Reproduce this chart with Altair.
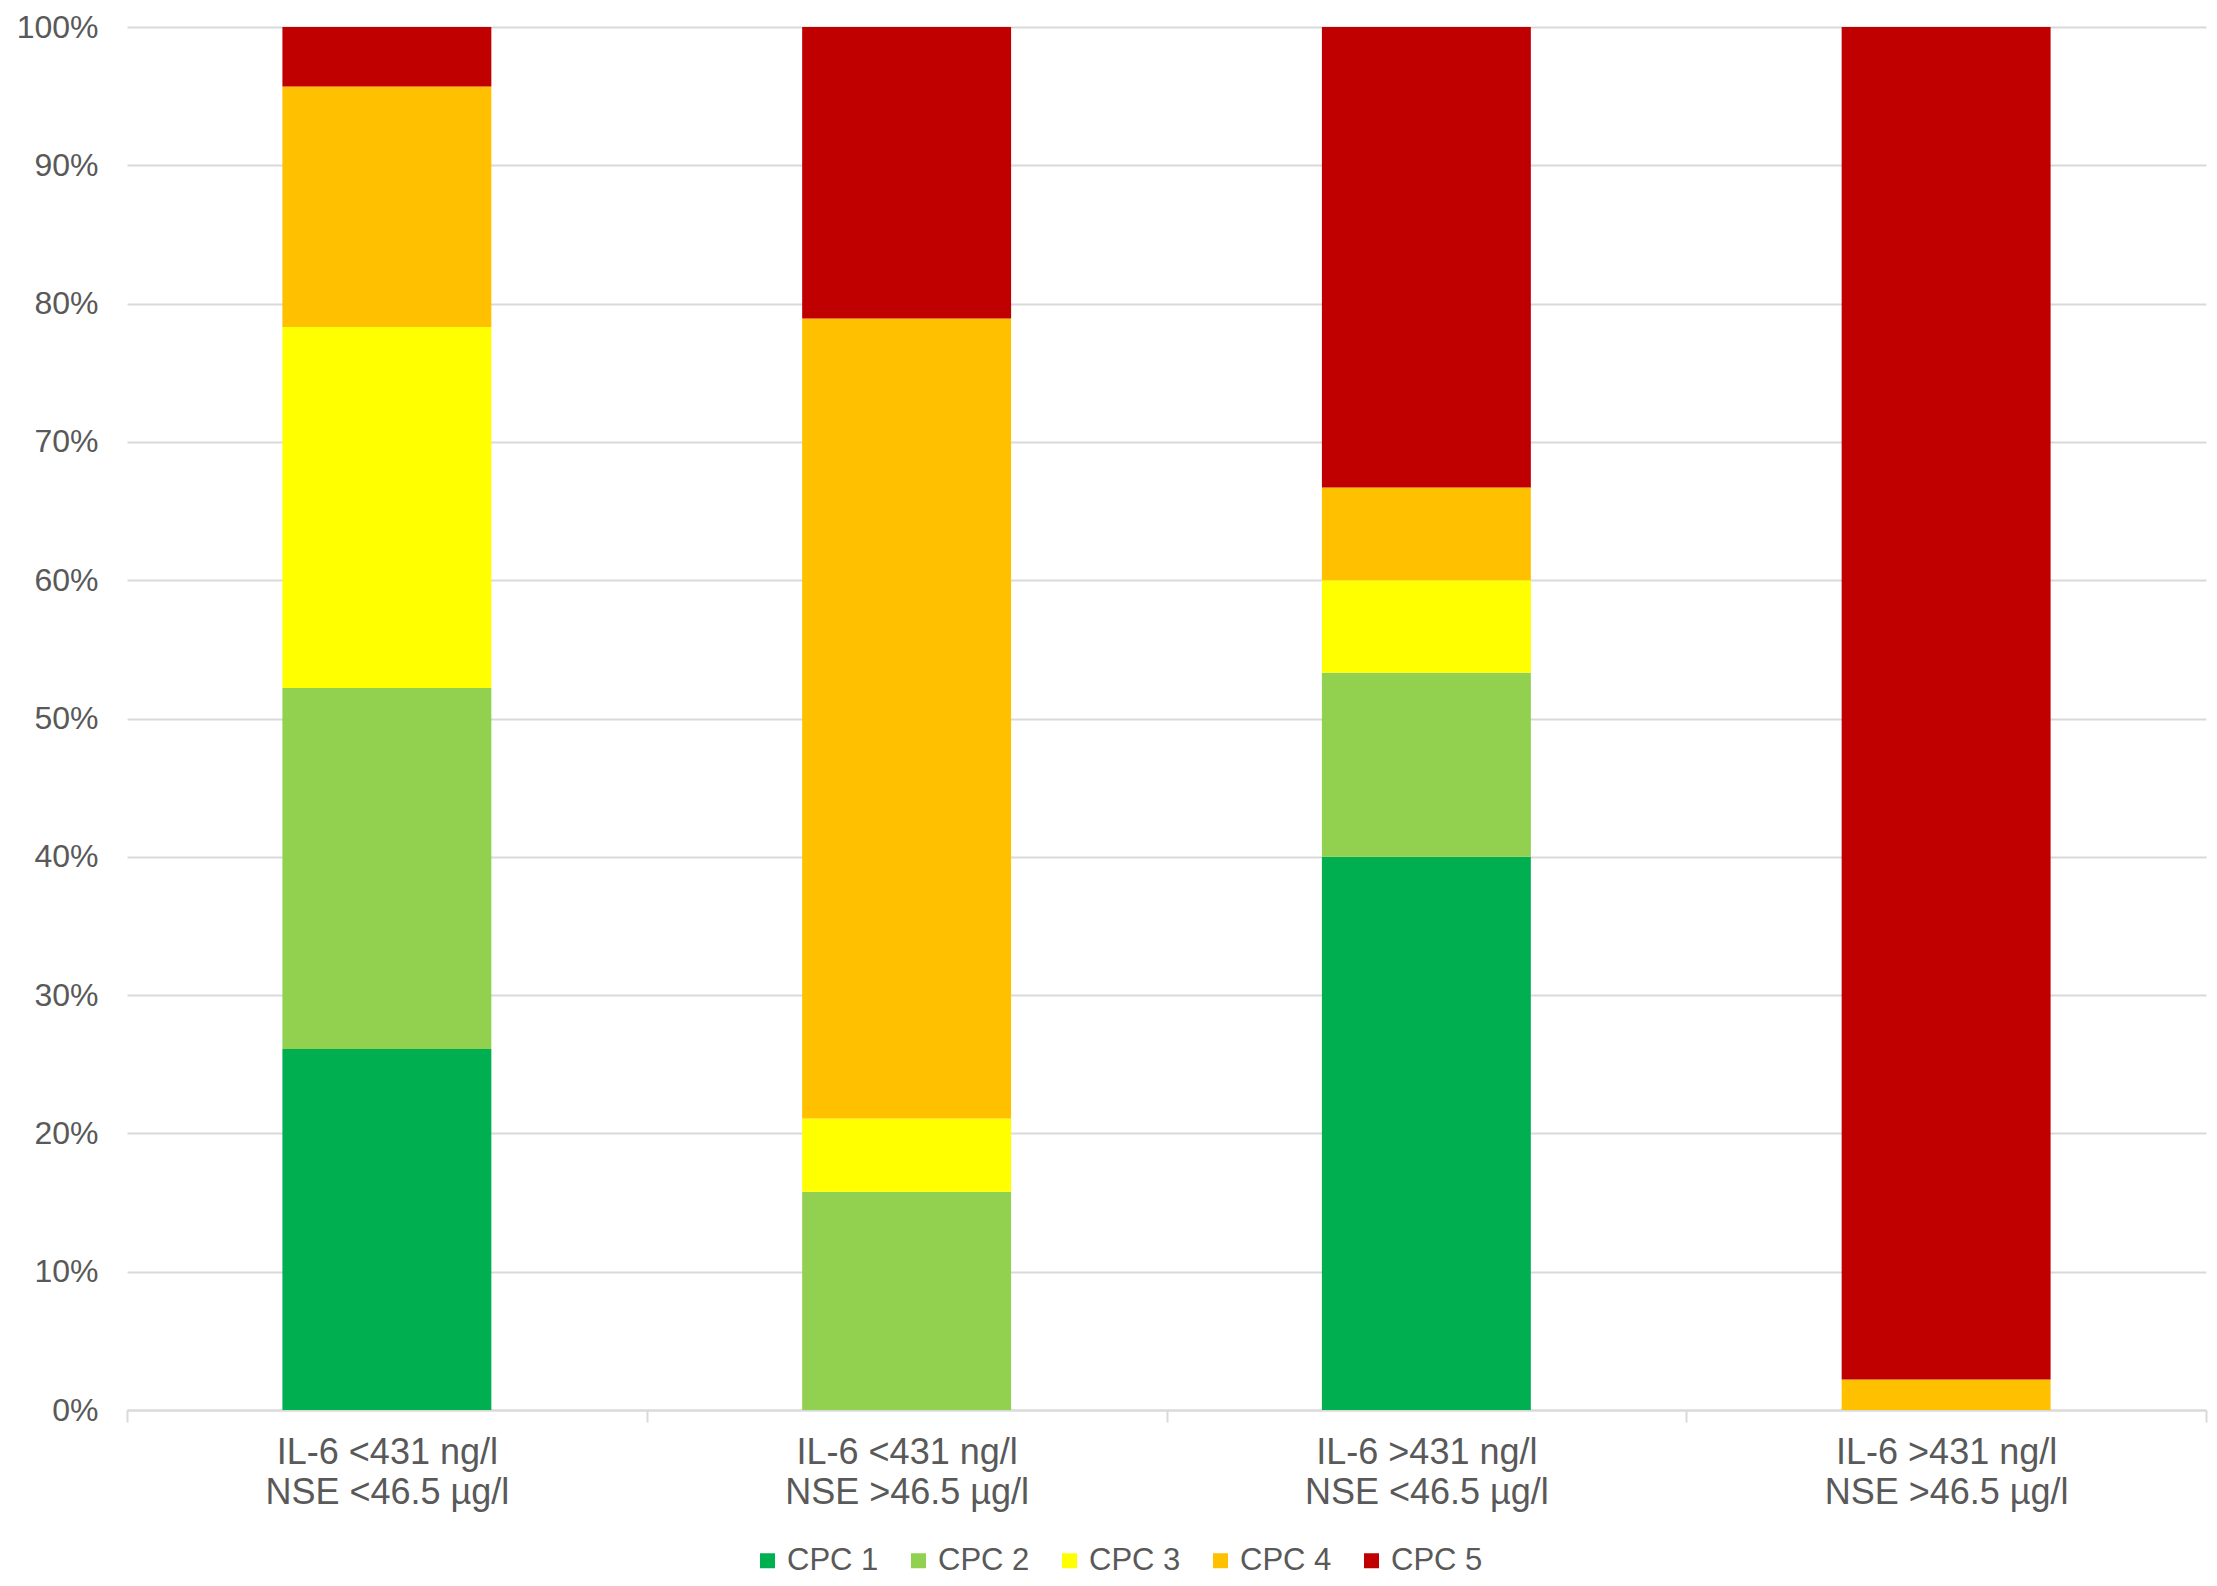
import altair as alt
import pandas as pd

groups = [
    "IL-6 <431 ng/l\nNSE <46.5 µg/l",
    "IL-6 <431 ng/l\nNSE >46.5 µg/l",
    "IL-6 >431 ng/l\nNSE <46.5 µg/l",
    "IL-6 >431 ng/l\nNSE >46.5 µg/l",
]
series = ["CPC 1", "CPC 2", "CPC 3", "CPC 4", "CPC 5"]
colors = ["#00B050", "#92D050", "#FFFF00", "#FFC000", "#C00000"]

# percentage of patients per group (columns follow `groups`)
cpc1 = [26.1, 0.0, 40.0, 0.0]
cpc2 = [26.1, 15.8, 13.3, 0.0]
cpc3 = [26.1, 5.3, 6.7, 0.0]
cpc4 = [17.4, 57.9, 6.7, 2.2]
cpc5 = [4.3, 21.1, 33.3, 97.8]
values = [cpc1, cpc2, cpc3, cpc4, cpc5]

y_ticks = [0, 0.1, 0.2, 0.3, 0.4, 0.5, 0.6, 0.7, 0.8, 0.9, 1.0]

rows = []
for si, (s, vals) in enumerate(zip(series, values)):
    for g, v in zip(groups, vals):
        rows.append({"group": g, "cpc": s, "order": si, "value": v})
df = pd.DataFrame(rows)

FONT = "Liberation Sans"
GRAY = "#595959"
LINE = "#D9D9D9"

chart = (
    alt.Chart(df)
    .mark_bar(width=alt.RelativeBandSize(0.402))
    .encode(
        x=alt.X(
            "group:N",
            sort=groups,
            title=None,
            scale=alt.Scale(paddingInner=0, paddingOuter=0),
            axis=alt.Axis(
                labelAngle=0,
                labelExpr="split(datum.label, '\\n')",
                labelFont=FONT,
                labelFontSize=36,
                labelLineHeight=40,
                labelColor=GRAY,
                labelPadding=13,
                labelLimit=0,
                tickBand="extent",
                ticks=True,
                tickSize=12,
                tickColor=LINE,
                tickWidth=2,
                domainColor=LINE,
                domainWidth=2,
                grid=False,
            ),
        ),
        y=alt.Y(
            "value:Q",
            stack="normalize",
            title=None,
            scale=alt.Scale(domain=[0, 1]),
            axis=alt.Axis(
                values=y_ticks,
                format=".0%",
                labelFont=FONT,
                labelFontSize=32,
                labelColor=GRAY,
                labelPadding=29,
                ticks=False,
                domain=False,
                grid=True,
                gridColor=LINE,
                gridWidth=2,
            ),
        ),
        color=alt.Color(
            "cpc:N",
            sort=series,
            scale=alt.Scale(domain=series, range=colors),
            legend=alt.Legend(
                title=None,
                orient="none",
                legendX=625,
                legendY=1518,
                direction="horizontal",
                columns=5,
                symbolType="square",
                symbolSize=225,
                symbolStrokeWidth=0,
                labelFont=FONT,
                labelFontSize=31,
                labelColor=GRAY,
                labelOffset=4,
                columnPadding=24,
            ),
        ),
        order=alt.Order("order:Q", sort="ascending"),
    )
    .properties(
        width=2079,
        height=1383,
        autosize=alt.AutoSizeParams(type="none"),
        padding={"left": 119, "top": 19, "right": 3, "bottom": 168},
    )
    .configure(background="white")
    .configure_view(strokeWidth=0, stroke=None)
)

chart.save("out.html", embed_options={"renderer": "svg", "actions": False})
